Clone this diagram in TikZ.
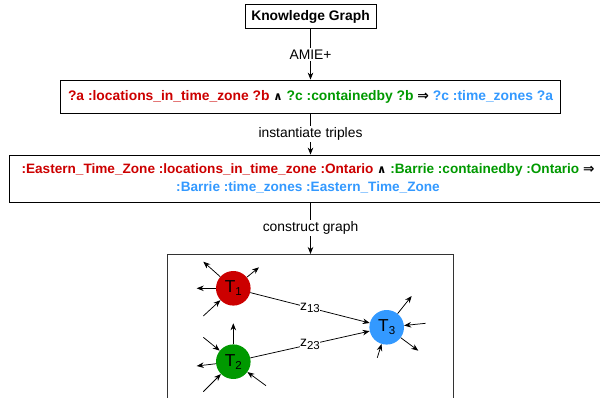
\documentclass[tikz,border=0pt]{standalone}
\usepackage{fontspec}
\setmainfont{Liberation Sans}
\newfontfamily\symfont{DejaVu Sans}
\usetikzlibrary{arrows.meta}
\definecolor{cred}{HTML}{CC0000}
\definecolor{cgreen}{HTML}{009900}
\definecolor{cblue}{HTML}{3399FF}
\newcommand{\sub}[1]{\raisebox{-0.35ex}{\fontsize{11.5}{11.5}\selectfont #1}}
\newcommand{\andsym}{{\symfont\fontsize{11.5}{11.5}\selectfont ∧}}
\newcommand{\impsym}{{\symfont\bfseries ⇒}}
\tikzset{
  box/.style={draw=black, line width=0.8pt, rectangle, inner sep=0pt, align=center},
  lab/.style={fill=white, inner sep=1.5pt, font=\fontsize{13.85}{16}\selectfont},
  flow/.style={draw=black, line width=0.7pt, -{Stealth[length=7pt,width=5.5pt]}},
  tnode/.style={circle, minimum size=34.6pt, inner sep=0pt, font=\fontsize{17.3}{18}\selectfont},
  stub/.style={draw=black, line width=0.75pt, -{Stealth[length=7pt,width=5.5pt]}},
}
\begin{document}
\begin{tikzpicture}[x=1pt,y=-1pt]
\useasboundingbox (0,0) rectangle (600,398);
\node[box, minimum width=131pt, minimum height=24pt, font=\bfseries\fontsize{13.85}{16}\selectfont] (kg) at (310.5,16.6) {Knowledge Graph};
\node[box, minimum width=500pt, minimum height=33pt, font=\bfseries\fontsize{13.85}{16}\selectfont] (rule) at (310.5,96.5)
 {\textcolor{cred}{?a :locations\_in\_time\_zone ?b} \andsym{} \textcolor{cgreen}{?c :containedby ?b} \impsym{} \textcolor{cblue}{?c :time\_zones ?a}};
\node[box, minimum width=598pt, minimum height=47pt, font=\bfseries\fontsize{13.6}{18.5}\selectfont] (inst) at (308,178.5)
 {\textcolor{cred}{:Eastern\_Time\_Zone :locations\_in\_time\_zone :Ontario} \andsym{} \textcolor{cgreen}{:Barrie :containedby :Ontario} \impsym\\
 \textcolor{cblue}{:Barrie :time\_zones :Eastern\_Time\_Zone}};
\coordinate (gtop) at (310.5,254);
\draw[line width=0.8pt, draw=black!80] (167,420) -- (167,254) -- (453,254) -- (453,420);
\draw[flow] (kg.south) -- node[lab] {AMIE+} (rule.north);
\draw[flow] (rule.south) -- node[lab] {instantiate triples} (rule.south |- inst.north);
\draw[flow] (rule.south |- inst.south) -- node[lab] {construct graph} (gtop);
% graph nodes
\node[tnode, fill=cred] (t1) at (233.3,288.3) {T\sub{1}};
\node[tnode, fill=cgreen] (t2) at (233.3,361.7) {T\sub{2}};
\node[tnode, fill=cblue] (t3) at (386.7,327.3) {T\sub{3}};
\draw[stub] (t1) -- node[lab, pos=0.5, inner sep=0.5pt] {z\sub{13}} (t3);
\draw[stub] (t2) -- node[lab, pos=0.5, inner sep=0.5pt] {z\sub{23}} (t3);
% stubs T1
\coordinate (a1) at (203.3,261.7);
\coordinate (a2) at (259,267.3);
\coordinate (a3) at (196.7,288.3);
\coordinate (a4) at (203.3,316);
\draw[stub] (t1) -- (a1);
\draw[stub] (t1) -- (a2);
\draw[stub] (t1) -- (a3);
\draw[stub] (a4) -- (t1);
% stubs T2
\coordinate (b1) at (233.3,323.3);
\coordinate (b2) at (203.3,337.3);
\coordinate (b3) at (196.7,366);
\coordinate (b4) at (203.3,391.7);
\coordinate (b5) at (266,385.7);
\draw[stub] (t2) -- (b1);
\draw[stub] (b2) -- (t2);
\draw[stub] (t2) -- (b3);
\draw[stub] (b4) -- (t2);
\draw[stub] (b5) -- (t2);
% stubs T3
\coordinate (c1) at (411.7,296);
\coordinate (c2) at (425.7,323.3);
\coordinate (c3) at (418.3,350.7);
\coordinate (c4) at (377.3,357.7);
\draw[stub] (t3) -- (c1);
\draw[stub] (c2) -- (t3);
\draw[stub] (t3) -- (c3);
\draw[stub] (c4) -- (t3);
\end{tikzpicture}
\end{document}
